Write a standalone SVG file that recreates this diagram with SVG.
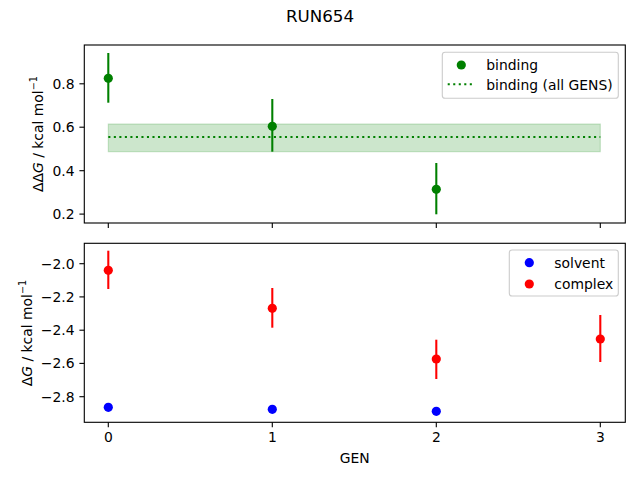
<svg xmlns="http://www.w3.org/2000/svg" width="640" height="480" viewBox="0 0 640 480">
<defs>
<style>
text{font-family:"DejaVu Sans","Liberation Sans",sans-serif;font-size:13.9px;fill:#000}
.ytl{text-anchor:end}
.xtl{text-anchor:middle}
.spine{fill:none;stroke:#000;stroke-width:1.11}
.tick{stroke:#000;stroke-width:1.11}
.eg{stroke:#008000;stroke-width:2.08}
.er{stroke:#ff0000;stroke-width:2.08}
.leg{fill:#fff;fill-opacity:0.8;stroke:#cccccc;stroke-width:1.11}
</style>
</defs>
<rect width="640" height="480" fill="#fff"/>
<text x="320" y="22" style="font-size:16.7px;text-anchor:middle">RUN654</text>

<!-- top axes -->
<g id="top-axes">
<rect x="108.3" y="124" width="492" height="27.7" fill="#008000" fill-opacity="0.2" stroke="#008000" stroke-opacity="0.2" stroke-width="1.11"/>
<line x1="108.3" y1="137" x2="600.3" y2="137" stroke="#008000" stroke-width="2.08" stroke-dasharray="2.08 3.44"/>
<g id="binding-points">
<line class="eg" x1="108.3" y1="53" x2="108.3" y2="102.7"/>
<line class="eg" x1="272.3" y1="99" x2="272.3" y2="151.7"/>
<line class="eg" x1="436.3" y1="163" x2="436.3" y2="214.3"/>
<circle cx="108.3" cy="78.3" r="4.6" fill="#008000"/>
<circle cx="272.3" cy="126.3" r="4.6" fill="#008000"/>
<circle cx="436.3" cy="189.3" r="4.6" fill="#008000"/>
</g>
<rect class="spine" x="84.3" y="45" width="541" height="178"/>
<g>
<line class="tick" x1="79.4" y1="83.8" x2="84.3" y2="83.8"/>
<line class="tick" x1="79.4" y1="127.2" x2="84.3" y2="127.2"/>
<line class="tick" x1="79.4" y1="170.7" x2="84.3" y2="170.7"/>
<line class="tick" x1="79.4" y1="214.1" x2="84.3" y2="214.1"/>
<line class="tick" x1="108.3" y1="223" x2="108.3" y2="227.9"/>
<line class="tick" x1="272.3" y1="223" x2="272.3" y2="227.9"/>
<line class="tick" x1="436.3" y1="223" x2="436.3" y2="227.9"/>
<line class="tick" x1="600.3" y1="223" x2="600.3" y2="227.9"/>
</g>
<text class="ytl" x="74.5" y="88.8">0.8</text>
<text class="ytl" x="74.5" y="132.2">0.6</text>
<text class="ytl" x="74.5" y="175.7">0.4</text>
<text class="ytl" x="74.5" y="219.1">0.2</text>
<text transform="translate(42.5,134) rotate(-90)" text-anchor="middle">ΔΔ<tspan font-style="italic">G</tspan> / kcal mol<tspan dy="-5.5" style="font-size:9.7px">−1</tspan></text>
<g id="legend-top">
<rect class="leg" x="442.3" y="52.3" width="176" height="46" rx="2.8"/>
<circle cx="461.3" cy="65" r="4.6" fill="#008000"/>
<text x="486.3" y="70">binding</text>
<line x1="447.7" y1="84.3" x2="475" y2="84.3" stroke="#008000" stroke-width="2.08" stroke-dasharray="2.08 3.44"/>
<text x="486.3" y="89.5">binding (all GENS)</text>
</g>
</g>

<!-- bottom axes -->
<g id="bottom-axes">
<g id="complex-points">
<line class="er" x1="108.3" y1="250.7" x2="108.3" y2="289"/>
<line class="er" x1="272.3" y1="288" x2="272.3" y2="327.7"/>
<line class="er" x1="436.3" y1="339.7" x2="436.3" y2="379"/>
<line class="er" x1="600.3" y1="315" x2="600.3" y2="362"/>
<circle cx="108.3" cy="270.3" r="4.6" fill="#ff0000"/>
<circle cx="272.3" cy="308.3" r="4.6" fill="#ff0000"/>
<circle cx="436.3" cy="359" r="4.6" fill="#ff0000"/>
<circle cx="600.3" cy="339" r="4.6" fill="#ff0000"/>
</g>
<g id="solvent-points">
<circle cx="108.3" cy="407.3" r="4.6" fill="#0000ff"/>
<circle cx="272.3" cy="409.3" r="4.6" fill="#0000ff"/>
<circle cx="436.3" cy="411.3" r="4.6" fill="#0000ff"/>
</g>
<rect class="spine" x="84.3" y="243.3" width="541" height="179"/>
<g>
<line class="tick" x1="79.4" y1="263.7" x2="84.3" y2="263.7"/>
<line class="tick" x1="79.4" y1="296.9" x2="84.3" y2="296.9"/>
<line class="tick" x1="79.4" y1="330.2" x2="84.3" y2="330.2"/>
<line class="tick" x1="79.4" y1="363.4" x2="84.3" y2="363.4"/>
<line class="tick" x1="79.4" y1="396.7" x2="84.3" y2="396.7"/>
<line class="tick" x1="108.3" y1="422.3" x2="108.3" y2="427.2"/>
<line class="tick" x1="272.3" y1="422.3" x2="272.3" y2="427.2"/>
<line class="tick" x1="436.3" y1="422.3" x2="436.3" y2="427.2"/>
<line class="tick" x1="600.3" y1="422.3" x2="600.3" y2="427.2"/>
</g>
<text class="ytl" x="74.5" y="268.7">−2.0</text>
<text class="ytl" x="74.5" y="301.9">−2.2</text>
<text class="ytl" x="74.5" y="335.2">−2.4</text>
<text class="ytl" x="74.5" y="368.4">−2.6</text>
<text class="ytl" x="74.5" y="401.7">−2.8</text>
<text class="xtl" x="108.3" y="442.3">0</text>
<text class="xtl" x="272.3" y="442.3">1</text>
<text class="xtl" x="436.3" y="442.3">2</text>
<text class="xtl" x="600.3" y="442.3">3</text>
<text class="xtl" x="354.8" y="462.7">GEN</text>
<text transform="translate(31.5,333) rotate(-90)" text-anchor="middle">Δ<tspan font-style="italic">G</tspan> / kcal mol<tspan dy="-5.5" style="font-size:9.7px">−1</tspan></text>
<g id="legend-bottom">
<rect class="leg" x="509.3" y="250" width="109" height="46" rx="2.8"/>
<circle cx="529.3" cy="262.7" r="4.6" fill="#0000ff"/>
<text x="554.3" y="267.7">solvent</text>
<circle cx="529.3" cy="284" r="4.6" fill="#ff0000"/>
<text x="554.3" y="289">complex</text>
</g>
</g>
</svg>
